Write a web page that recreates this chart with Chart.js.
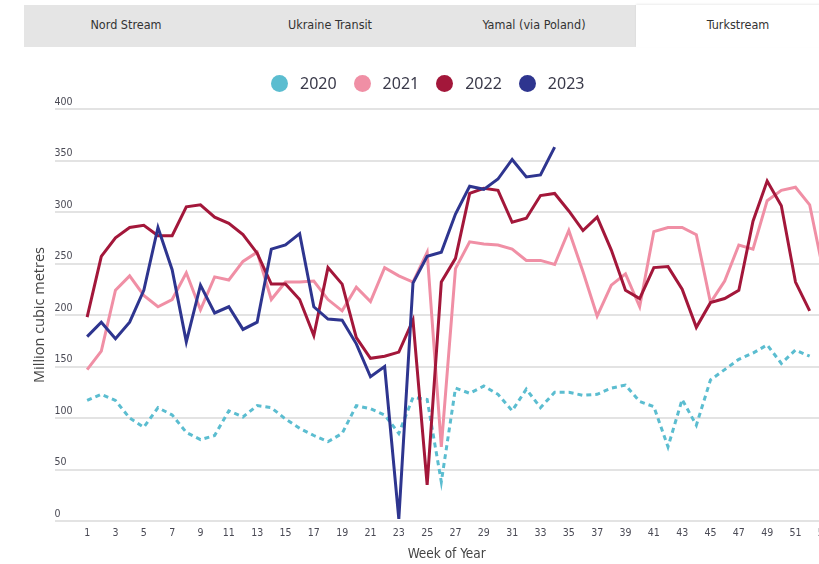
<!DOCTYPE html>
<html>
<head>
<meta charset="utf-8">
<script src="https://cdn.jsdelivr.net/npm/chart.js@4/dist/chart.umd.min.js"></script>
<style>
  html, body { margin: 0; padding: 0; background: #fff; overflow: hidden; }
  body { width: 819px; height: 564px; position: relative; }
  .tabs {
    position: absolute; top: 5px; left: 24px; width: 816px; height: 42px;
    background: #e5e5e5; display: flex;
    font-family: "DejaVu Sans Condensed", "Liberation Sans Narrow", sans-serif;
    font-size: 12.5px; color: #333;
  }
  .tab { width: 204px; line-height: 40px; text-align: center; }
  .tab.activa { background: #fff; box-shadow: 0 -1px 2px rgba(0,0,0,0.08); }
  #leyenda {
    position: absolute; top: 74px; left: 271px; height: 18px; z-index: 2;
    display: flex; align-items: center;
    font-family: "Noto Sans", sans-serif; font-size: 16px; color: #3a3a4a;
  }
  .item { display: flex; align-items: center; margin-right: 17px; }
  .punto { width: 17px; height: 17px; border-radius: 50%; margin-right: 12px; }
  #wrap { position: absolute; top: 0; left: 0; width: 840px; height: 564px; }
</style>
</head>
<body>
<div class="tabs">
  <div class="tab">Nord Stream</div>
  <div class="tab">Ukraine Transit</div>
  <div class="tab">Yamal (via Poland)</div>
  <div class="tab activa">Turkstream</div>
</div>
<div id="leyenda"></div>
<div id="wrap"><canvas id="flujoChart" width="840" height="564"></canvas></div>

<script>
const semanas = [1, 2, 3, 4, 5, 6, 7, 8, 9, 10, 11, 12, 13, 14, 15, 16, 17, 18, 19, 20,
  21, 22, 23, 24, 25, 26, 27, 28, 29, 30, 31, 32, 33, 34, 35, 36, 37, 38, 39, 40,
  41, 42, 43, 44, 45, 46, 47, 48, 49, 50, 51, 52, 53];
const semanasTicks = [1, 3, 5, 7, 9, 11, 13, 15, 17, 19, 21, 23, 25, 27, 29, 31, 33, 35,
  37, 39, 41, 43, 45, 47, 49, 51, 53];
const yTicks = [0, 50, 100, 150, 200, 250, 300, 350, 400];

const anios = ["2020", "2021", "2022", "2023"];
const colores = ["#5bbdd0", "#f08fa5", "#a3173a", "#2e358f"];

const flujo2020 = [117, 123, 117, 100, 91, 110, 103, 86, 79, 83,
  107, 101, 112, 110, 99, 90, 83, 77, 85, 112,
  109, 103, 85, 120, 118, 38, 129, 124, 131, 123,
  107, 128, 110, 125, 125, 122, 123, 129, 132, 116,
  111, 72, 118, 93, 137, 147, 157, 163, 171, 153,
  166, 160];
const flujo2021 = [147, 165, 224, 238, 219, 208, 215, 241, 205, 237,
  234, 252, 261, 215, 232, 232, 233, 215, 204, 227,
  213, 246, 238, 232, 261, 72, 245, 271, 269, 268,
  264, 253, 253, 249, 282, 242, 199, 229, 240, 208,
  281, 285, 285, 278, 212, 233, 268, 264, 311, 321,
  324, 307, 240];
const flujo2022 = [198, 257, 275, 285, 287, 277, 277, 305, 307, 295,
  289, 278, 260, 230, 230, 215, 180, 246, 230, 178,
  158, 160, 164, 195, 35, 232, 255, 318, 323, 321,
  290, 294, 316, 318, 301, 282, 295, 263, 224, 216,
  246, 247, 225, 188, 212, 216, 224, 291, 330, 306,
  232, 204];
const flujo2023 = [179, 193, 177, 193, 224, 285, 244, 174, 229, 202,
  208, 186, 193, 264, 268, 279, 208, 196, 195, 172,
  140, 150, 2, 231, 257, 261, 298, 325, 322, 332,
  351, 334, 336, 363];

const series = [flujo2020, flujo2021, flujo2022, flujo2023];

const fuenteNarrow = "'DejaVu Sans Condensed', 'Liberation Sans Narrow', sans-serif";

function armarLeyenda() {
  const cont = document.getElementById("leyenda");
  anios.forEach((anio, i) => {
    const item = document.createElement("div");
    item.className = "item";
    item.innerHTML = `<span class="punto" style="background:${colores[i]}"></span><span>${anio}</span>`;
    cont.appendChild(item);
  });
}

function armarDatasets() {
  return series.map((valores, i) => ({
    label: anios[i],
    data: valores.map((v, j) => ({ x: semanas[j], y: v })),
    borderColor: colores[i],
    backgroundColor: colores[i],
    borderWidth: 3,
    borderDash: i === 0 ? [5, 4] : [],
    pointRadius: 0,
    tension: 0,
    fill: false,
    order: 3 - i
  }));
}

armarLeyenda();

new Chart(document.getElementById("flujoChart"), {
  type: "line",
  data: { datasets: armarDatasets() },
  options: {
    responsive: false,
    animation: false,
    layout: { padding: { left: 31, right: 2, top: 109, bottom: 0 } },
    plugins: {
      tooltip: { enabled: false },
      legend: { display: false }
    },
    scales: {
      x: {
        type: "linear",
        min: -1.24,
        max: 54,
        grid: { display: false, drawTicks: false },
        border: { display: false },
        afterBuildTicks: axis => {
          axis.ticks = semanasTicks.map(v => ({ value: v }));
        },
        afterFit: axis => {
          axis.height = 43;
        },
        ticks: {
          autoSkip: false,
          maxRotation: 0,
          padding: 6,
          color: "#4a4a55",
          font: { family: fuenteNarrow, size: 10.5 }
        },
        title: {
          display: true,
          text: "Week of Year",
          color: "#444",
          padding: { top: 2, bottom: 1 },
          font: { family: fuenteNarrow, size: 13.5 }
        }
      },
      y: {
        min: 0,
        max: 400,
        afterBuildTicks: axis => {
          axis.ticks = yTicks.map(v => ({ value: v }));
        },
        grid: { color: "#e3e3e3", lineWidth: 2, drawTicks: false },
        border: { display: false },
        ticks: {
          mirror: true,
          padding: -1,
          labelOffset: -7,
          color: "#4a4a55",
          font: { family: fuenteNarrow, size: 10.5 }
        },
        title: {
          display: true,
          text: "Million cubic metres",
          color: "#444",
          padding: { top: 0, bottom: 9 },
          font: { family: "'Open Sans', sans-serif", size: 14.5 }
        }
      }
    }
  }
});
</script>
</body>
</html>
